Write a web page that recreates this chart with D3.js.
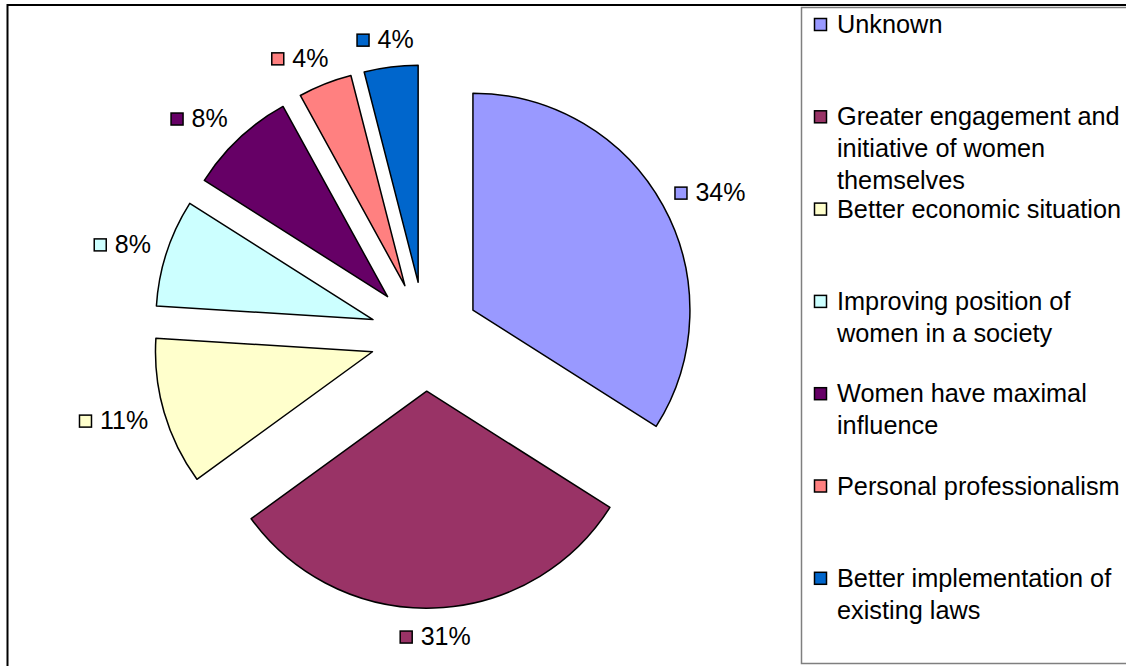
<!DOCTYPE html>
<html>
<head>
<meta charset="utf-8">
<script src="https://cdn.jsdelivr.net/npm/d3@7"></script>
<style>
  html, body { margin: 0; padding: 0; background: #fff; }
  svg { display: block; font-family: "Liberation Sans", Arial, sans-serif; }
</style>
</head>
<body>
<svg id="chart" width="1126" height="666"></svg>
<script>
// Factors named as most important, share of answers (%)
const categories = [
  "Unknown",
  "Greater engagement and initiative of women themselves",
  "Better economic situation",
  "Improving position of women in a society",
  "Women have maximal influence",
  "Personal professionalism",
  "Better implementation of existing laws"
];
const values = [34, 31, 11, 8, 8, 4, 4];
const legendLines = [
  ["Unknown"],
  ["Greater engagement and", "initiative of women", "themselves"],
  ["Better economic situation"],
  ["Improving position of", "women in a society"],
  ["Women have maximal", "influence"],
  ["Personal professionalism"],
  ["Better implementation of", "existing laws"]
];
const colors = ["#9999FF", "#993366", "#FFFFCC", "#CCFFFF", "#660066", "#FF8080", "#0066CC"];

const svg = d3.select("#chart");

// Outer frame of the chart area
svg.append("rect")
  .attr("x", 7.5).attr("y", 5).attr("width", 1300).attr("height", 800)
  .attr("fill", "none").attr("stroke", "#000").attr("stroke-width", 2);

// Pie geometry
const cx = 425, cy = 336.5, radius = 217, explode = 54.7;

const pie = d3.pie().sort(null).value(d => d).startAngle(0).endAngle(2 * Math.PI);
const arcs = pie(values);
const arc = d3.arc().innerRadius(0).outerRadius(radius);
const color = d3.scaleOrdinal().domain(categories).range(colors);

const mid = d => (d.startAngle + d.endAngle) / 2;

const slices = svg.append("g").attr("class", "slices");
slices.selectAll("path")
  .data(arcs)
  .join("path")
  .attr("transform", d => {
    const a = mid(d);
    return `translate(${cx + explode * Math.sin(a)},${cy - explode * Math.cos(a)})`;
  })
  .attr("d", arc)
  .attr("fill", (d, i) => color(categories[i]))
  .attr("stroke", "#000")
  .attr("stroke-width", 1.5)
  .attr("stroke-linejoin", "round");

// Percentage labels with colour keys, placed outside each exploded slice
const labelFs = 25, keySize = 12, keyGap = 9, labelR = radius + 18;
const labels = svg.append("g").attr("class", "labels");
arcs.forEach((d, i) => {
  const a = mid(d);
  const s = Math.sin(a), c = Math.cos(a);
  const ox = cx + explode * s, oy = cy - explode * c;
  const px = ox + labelR * s, py = oy - labelR * c;
  const g = labels.append("g");
  const t = g.append("text")
    .attr("font-size", labelFs)
    .attr("fill", "#000")
    .text(d.data + "%");
  const tw = t.node().getComputedTextLength();
  const w = keySize + keyGap + tw;
  const h = labelFs * 0.8;
  const left = px - w * (1 - s) / 2 - (s < -0.2 && c > 0.5 ? 8 : 0);
  const yc = py - (h / 2) * c;
  g.insert("rect", "text")
    .attr("x", left + 0.5).attr("y", yc - keySize / 2 + 1)
    .attr("width", keySize).attr("height", keySize)
    .attr("fill", color(categories[i]))
    .attr("stroke", "#000").attr("stroke-width", 1.5);
  t.attr("x", left + keySize + keyGap).attr("y", yc + labelFs * 0.358);
});

// Legend box
const legend = svg.append("g").attr("class", "legend");
legend.append("rect")
  .attr("x", 801.5).attr("y", 7.5).attr("width", 400).attr("height", 656)
  .attr("fill", "#fff").attr("stroke", "#7f7f7f").attr("stroke-width", 1.5);

const legendFs = 25.3, entryStep = 92.3, lineStep = 32, firstY = 24;
categories.forEach((cat, i) => {
  const y0 = firstY + i * entryStep;
  legend.append("rect")
    .attr("x", 814.5).attr("y", y0 - 5.5)
    .attr("width", 12).attr("height", 12)
    .attr("fill", color(cat))
    .attr("stroke", "#000").attr("stroke-width", 1.5);
  const t = legend.append("text")
    .attr("font-size", legendFs)
    .attr("fill", "#000");
  legendLines[i].forEach((ln, j) => {
    t.append("tspan")
      .attr("x", 837)
      .attr("y", y0 + legendFs * 0.358 + j * lineStep)
      .text(ln);
  });
});
</script>
</body>
</html>
